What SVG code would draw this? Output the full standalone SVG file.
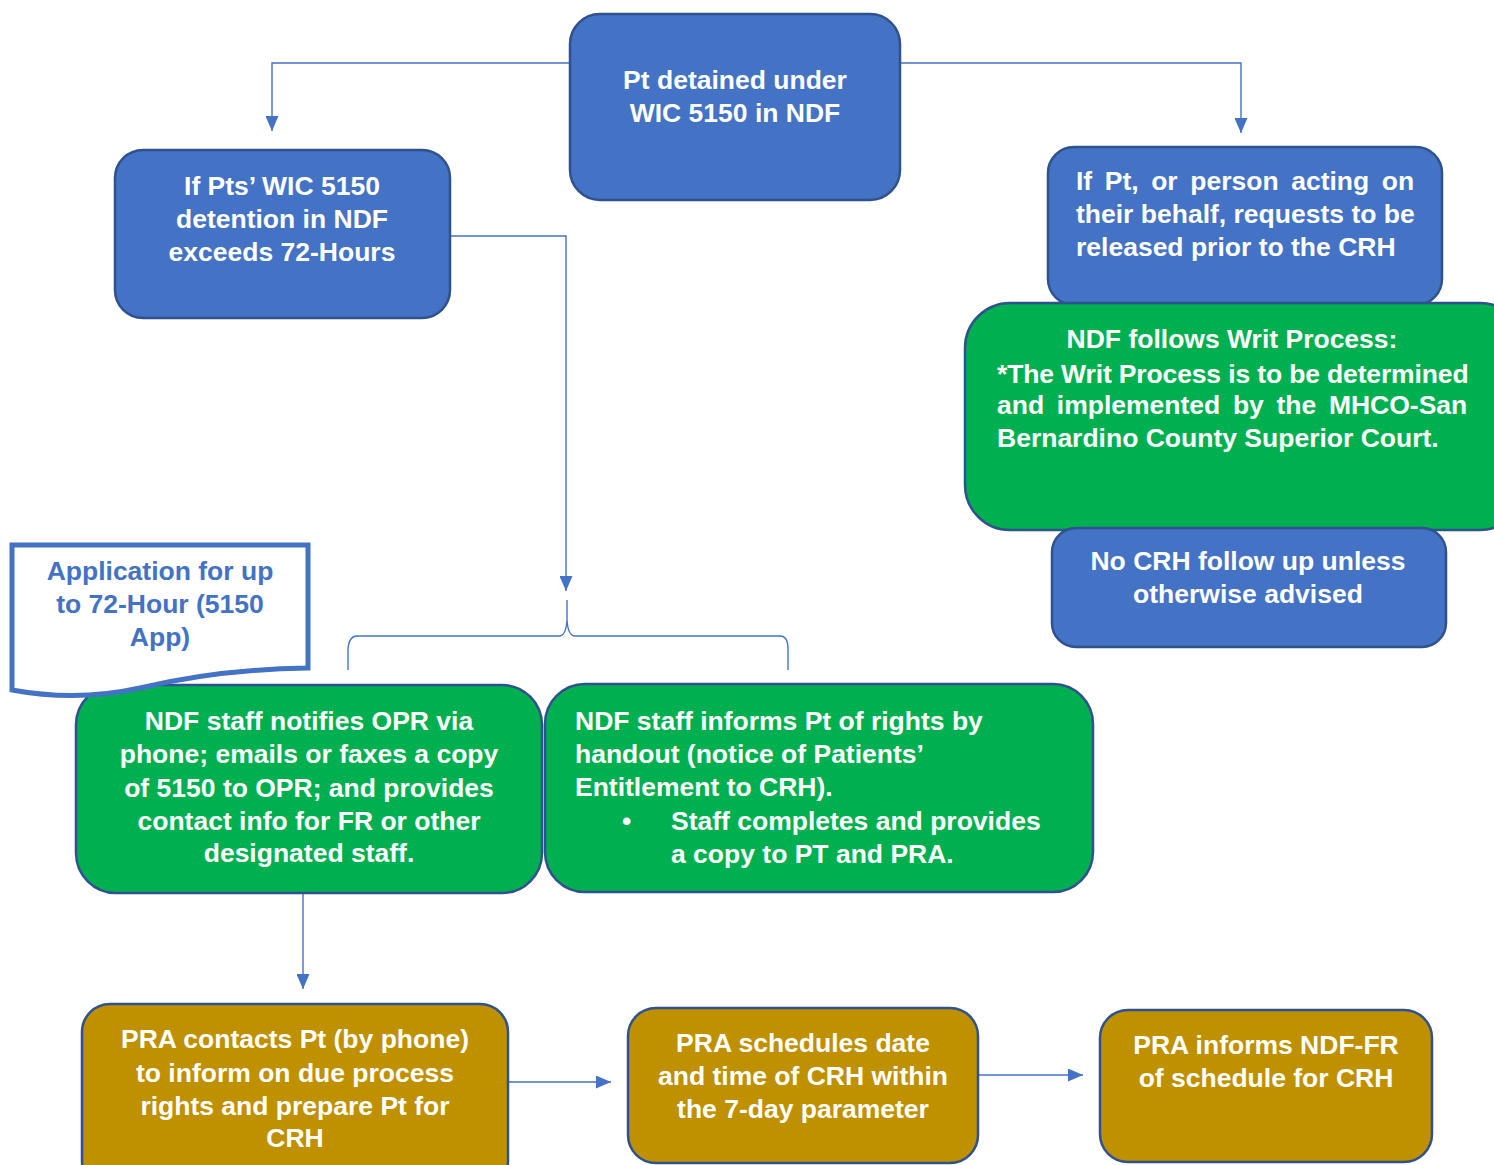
<svg xmlns="http://www.w3.org/2000/svg" width="1494" height="1165" viewBox="0 0 1494 1165">
<defs>
<style>
.t{font-family:"Liberation Sans",Arial,sans-serif;font-weight:bold;font-size:26.5px;fill:#fff}
.c{text-anchor:middle}
.blue{fill:#4472C4;stroke:#2F528F;stroke-width:2.5}
.green{fill:#00B050;stroke:#2F528F;stroke-width:2.5}
.gold{fill:#BF9000;stroke:#2F528F;stroke-width:2.5}
.ln{fill:none;stroke:#4472C4;stroke-width:1.4}
</style>
<marker id="ah" viewBox="0 0 10 10" refX="10" refY="5" markerWidth="15" markerHeight="13" markerUnits="userSpaceOnUse" orient="auto" preserveAspectRatio="none">
<path d="M0,0 L10,5 L0,10 Z" fill="#4472C4"/>
</marker>
</defs>
<rect width="1494" height="1165" fill="#fff"/>

<g id="connectors">
<path class="ln" d="M570,63 H272 V131" marker-end="url(#ah)"/>
<path class="ln" d="M900,63 H1241 V133" marker-end="url(#ah)"/>
<path class="ln" d="M450,236 H566 V591" marker-end="url(#ah)"/>
<path class="ln" d="M348,670 L348,649 Q349,636 357,636 L559,636 Q566,636 567,620 L567,600 M567,620 Q568,636 575,636 L780,636 Q788,636 788,649 L788,670"/>
<path class="ln" d="M303,893 V989" marker-end="url(#ah)"/>
<path class="ln" d="M507,1073 V1082 H611" marker-end="url(#ah)"/>
<path class="ln" d="M978,1075 H1083" marker-end="url(#ah)"/>
</g>

<g id="n-detained">
<rect class="blue" x="570" y="14" width="330" height="186" rx="30"/>
<text class="t c" x="735" y="89">Pt detained under</text>
<text class="t c" x="735" y="122">WIC 5150 in NDF</text>
</g>

<g id="n-exceeds">
<rect class="blue" x="115" y="150" width="335" height="168" rx="28"/>
<text class="t c" x="282" y="195">If Pts’ WIC 5150</text>
<text class="t c" x="282" y="228">detention in NDF</text>
<text class="t c" x="282" y="261">exceeds 72-Hours</text>
</g>

<g id="n-request">
<rect class="blue" x="1048" y="147" width="394" height="158" rx="26"/>
<text class="t" x="1076" y="190" word-spacing="5.2">If Pt, or person acting on</text>
<text class="t" x="1076" y="223">their behalf, requests to be</text>
<text class="t" x="1076" y="256">released prior to the CRH</text>
</g>

<g id="n-writ">
<rect class="green" x="965" y="303" width="560" height="227" rx="45"/>
<text class="t c" x="1232" y="348">NDF follows Writ Process:</text>
<text class="t" x="997" y="383" letter-spacing="-0.14">*The Writ Process is to be determined</text>
<text class="t" x="997" y="414" word-spacing="5.3">and implemented by the MHCO-San</text>
<text class="t" x="997" y="447">Bernardino County Superior Court.</text>
</g>

<g id="n-nocrh">
<rect class="blue" x="1052" y="528" width="394" height="119" rx="24"/>
<text class="t c" x="1248" y="570">No CRH follow up unless</text>
<text class="t c" x="1248" y="603">otherwise advised</text>
</g>

<g id="n-notifies">
<rect class="green" x="76" y="685" width="466" height="208" rx="40"/>
<text class="t c" x="309" y="730">NDF staff notifies OPR via</text>
<text class="t c" x="309" y="763">phone; emails or faxes a copy</text>
<text class="t c" x="309" y="797">of 5150 to OPR; and provides</text>
<text class="t c" x="309" y="830">contact info for FR or other</text>
<text class="t c" x="309" y="862">designated staff.</text>
</g>

<g id="n-application">
<path d="M12,545 H308 V668 C240,669 190,676 140,688 C95,698 50,697 12,690 Z" fill="#fff" stroke="#4472C4" stroke-width="5"/>
<text class="t c" x="160" y="580" style="fill:#4472C4">Application for up</text>
<text class="t c" x="160" y="613" style="fill:#4472C4">to 72-Hour (5150</text>
<text class="t c" x="160" y="646" style="fill:#4472C4">App)</text>
</g>

<g id="n-informs">
<rect class="green" x="545" y="684" width="548" height="208" rx="40"/>
<text class="t" x="575" y="730">NDF staff informs Pt of rights by</text>
<text class="t" x="575" y="763">handout (notice of Patients’</text>
<text class="t" x="575" y="796">Entitlement to CRH).</text>
<text class="t" x="622" y="830">•</text>
<text class="t" x="671" y="830">Staff completes and provides</text>
<text class="t" x="671" y="863">a copy to PT and PRA.</text>
</g>

<g id="n-contacts">
<rect class="gold" x="82" y="1004" width="426" height="185" rx="28"/>
<text class="t c" x="295" y="1048">PRA contacts Pt (by phone)</text>
<text class="t c" x="295" y="1082">to inform on due process</text>
<text class="t c" x="295" y="1115">rights and prepare Pt for</text>
<text class="t c" x="295" y="1147">CRH</text>
</g>

<g id="n-schedules">
<rect class="gold" x="628" y="1008" width="350" height="155" rx="28"/>
<text class="t c" x="803" y="1052">PRA schedules date</text>
<text class="t c" x="803" y="1085">and time of CRH within</text>
<text class="t c" x="803" y="1118">the 7-day parameter</text>
</g>

<g id="n-inform-fr">
<rect class="gold" x="1100" y="1010" width="332" height="152" rx="28"/>
<text class="t c" x="1266" y="1054">PRA informs NDF-FR</text>
<text class="t c" x="1266" y="1087">of schedule for CRH</text>
</g>
</svg>
